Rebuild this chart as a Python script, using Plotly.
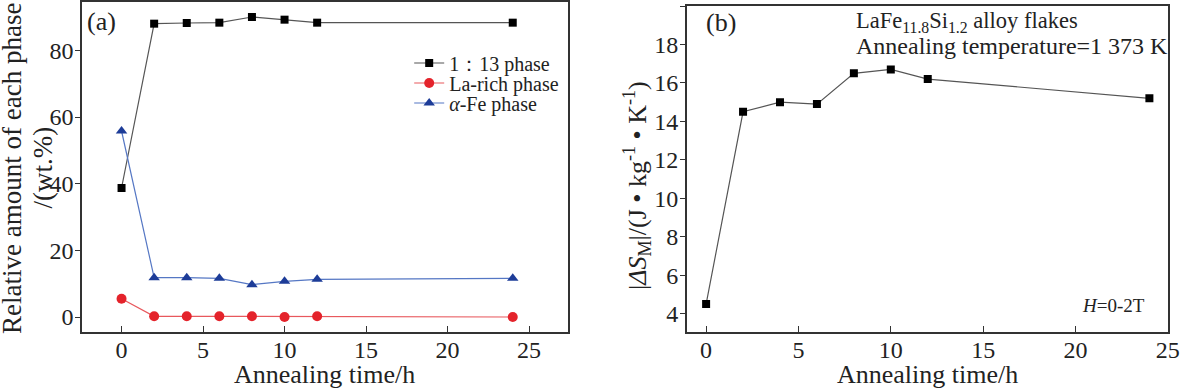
import plotly.graph_objects as go

# ---- data ----
time_a = [0, 2, 4, 6, 8, 10, 12, 24]
phase_113 = [38.7, 88.0, 88.2, 88.3, 90.0, 89.2, 88.3, 88.3]
la_rich = [5.5, 0.2, 0.2, 0.2, 0.2, 0.0, 0.2, 0.0]
alpha_fe = [55.8, 11.8, 11.8, 11.6, 9.7, 10.7, 11.3, 11.6]

time_b = [0, 2, 4, 6, 8, 10, 12, 24]
delta_sm = [4.5, 14.5, 15.0, 14.9, 16.5, 16.7, 16.2, 15.2]

x_ticks = [0, 5, 10, 15, 20, 25]
ya_ticks = [0, 20, 40, 60, 80]
yb_ticks = [4, 6, 8, 10, 12, 14, 16, 18, 20]

W, H = 1192, 388
MB = 56
PH = H - MB  # plot paper height in px

def px_x(p):
    return p / W

def px_y(p):
    return (PH - p) / PH

FONT = "Liberation Serif"

fig = go.Figure()

fig.add_trace(go.Scatter(x=time_a, y=phase_113, mode="lines+markers", name="1\uff1a13 phase",
                         line=dict(color="#555555", width=1.2),
                         marker=dict(symbol="square", size=8, color="#000000"),
                         xaxis="x", yaxis="y", legend="legend"))
fig.add_trace(go.Scatter(x=time_a, y=la_rich, mode="lines+markers", name="La-rich phase",
                         line=dict(color="#e8585d", width=1.2),
                         marker=dict(symbol="circle", size=10, color="#e4232b"),
                         xaxis="x", yaxis="y", legend="legend2"))
fig.add_trace(go.Scatter(x=time_a, y=alpha_fe, mode="lines+markers", name="<i>\u03b1</i>-Fe phase",
                         line=dict(color="#5577c4", width=1.2),
                         marker=dict(symbol="triangle-up", size=10, color="#1d3c98"),
                         xaxis="x", yaxis="y", legend="legend3"))
fig.add_trace(go.Scatter(x=time_b, y=delta_sm, mode="lines+markers", showlegend=False,
                         line=dict(color="#555555", width=1.2),
                         marker=dict(symbol="square", size=8, color="#000000"),
                         xaxis="x2", yaxis="y2"))

axis_common = dict(showgrid=False, zeroline=False, showline=True, mirror=True,
                   linecolor="#333333", linewidth=1.5, tickcolor="#333333",
                   tickfont=dict(family=FONT, size=24, color="#222222"))

def leg(yc):
    return dict(x=px_x(413), y=px_y(yc), xanchor="left", yanchor="middle",
                bgcolor="rgba(0,0,0,0)", borderwidth=0, itemwidth=30,
                font=dict(family=FONT, size=20, color="#222222"))

fig.update_layout(
    width=W, height=H,
    margin=dict(l=0, r=0, t=0, b=MB),
    paper_bgcolor="white", plot_bgcolor="white",
    font=dict(family=FONT, color="#222222"),
    xaxis=dict(domain=[px_x(82.7), px_x(573.3)], range=[-2.43, 27.39], tickvals=x_ticks,
               ticks="inside", ticklen=6, ticklabelstandoff=-5, anchor="y", **axis_common),
    yaxis=dict(domain=[0, px_y(2)], range=[-4.5, 94.5], tickvals=ya_ticks,
               ticks="outside", ticklen=5, ticklabelstandoff=-3, anchor="x", **axis_common),
    xaxis2=dict(domain=[px_x(693.3), px_x(1179.3)], range=[-1.04, 25.03], tickvals=x_ticks,
                ticks="inside", ticklen=6, ticklabelstandoff=-5, anchor="y2", **axis_common),
    yaxis2=dict(domain=[0, px_y(6)], range=[3.05, 20.0], tickvals=yb_ticks,
                ticks="outside", ticklen=5, ticklabelstandoff=-3, anchor="x2", **axis_common),
    legend=leg(63), legend2=leg(83), legend3=leg(103),
    showlegend=True,
)

ann = []
def add(text, x, y, size, xanchor="center", yanchor="middle", angle=0):
    ann.append(dict(text=text, x=px_x(x), y=px_y(y), xref="paper", yref="paper",
                    showarrow=False, xanchor=xanchor, yanchor=yanchor, textangle=angle,
                    font=dict(family=FONT, size=size, color="#222222")))

add("Relative amount of each phase", 12, 168, 27, angle=-90)
add("/(wt.%)", 43, 168, 27, angle=-90)
add("|<i>\u0394S</i><sub>M</sub>|/(J \u2022 kg<sup>-1</sup> \u2022 K<sup>-1</sup>)", 643, 186, 26, angle=-90)
add("Annealing time/h", 328, 374, 26)
add("Annealing time/h", 936, 374, 26)
add("(a)", 102, 21, 26)
add("(b)", 728, 22, 26)
add("LaFe<sub>11.8</sub>Si<sub>1.2</sub> alloy flakes", 862, 22, 22.5, xanchor="left")
add("Annealing temperature=1 373 K", 862, 46, 24, xanchor="left")
add("<i>H</i>=0-2T", 1158, 305, 19, xanchor="right")
fig.update_layout(annotations=ann)

fig.write_html("out.html", config={"displayModeBar": False},
               post_script="document.body.style.margin='0';document.body.style.padding='0';")
